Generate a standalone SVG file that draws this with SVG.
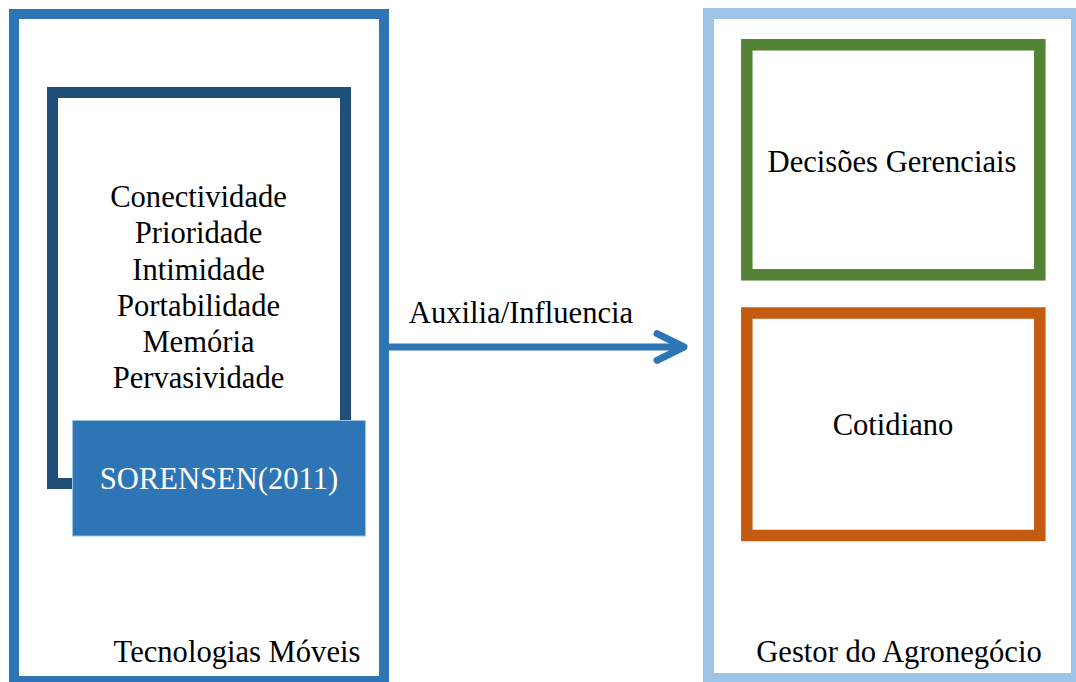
<svg xmlns="http://www.w3.org/2000/svg" width="1076" height="682" viewBox="0 0 1076 682">
  <defs>
    <marker id="chevron" viewBox="0 0 10 10" refX="8.6" refY="5" markerWidth="5" markerHeight="5" markerUnits="strokeWidth" orient="auto" overflow="visible">
      <path d="M0.9,1.2 L8.6,5 L0.9,8.8" fill="none" stroke="#2E75B6" stroke-width="2" stroke-linecap="round" stroke-linejoin="round"/>
    </marker>
  </defs>
  <style>
    .frame { fill: #FFFFFF; }
    .lbl { font-family: "Liberation Serif", "Times New Roman", serif; font-size: 30.6px; fill: #000000; text-anchor: middle; }
    .lbl-w { fill: #FFFFFF; }
    .link { stroke: #2E75B6; stroke-width: 7; fill: none; }
  </style>
  <rect width="1076" height="682" fill="#FFFFFF"/>

  <!-- Mobile technologies panel -->
  <g id="tecnologias-moveis">
    <rect class="frame" x="14" y="14" width="370" height="667" stroke="#2E75B6" stroke-width="10"/>
    <text class="lbl" x="237" y="662">Tecnologias Móveis</text>
  </g>

  <!-- Attribute list -->
  <g id="atributos">
    <rect class="frame" x="52.5" y="92.5" width="293" height="391" stroke="#1F4E79" stroke-width="11"/>
    <text class="lbl" x="198.5" y="206.5">Conectividade</text>
    <text class="lbl" x="198.5" y="243.2">Prioridade</text>
    <text class="lbl" x="198.5" y="279.5">Intimidade</text>
    <text class="lbl" x="198.5" y="315.8">Portabilidade</text>
    <text class="lbl" x="198.5" y="352">Memória</text>
    <text class="lbl" x="198.5" y="388.3">Pervasividade</text>
  </g>

  <!-- Source tag -->
  <g id="sorensen">
    <rect x="72.5" y="420.5" width="293" height="115.5" fill="#2E75B6" stroke="#9DC3E6" stroke-width="1"/>
    <text class="lbl lbl-w" x="219" y="489">SORENSEN(2011)</text>
  </g>

  <!-- Agribusiness manager panel -->
  <g id="gestor-agronegocio">
    <rect class="frame" x="708.5" y="13.5" width="368" height="665" stroke="#9DC3E6" stroke-width="11"/>
    <text class="lbl" x="899" y="662">Gestor do Agronegócio</text>
  </g>

  <g id="decisoes-gerenciais">
    <rect class="frame" x="746.8" y="44.8" width="293" height="230" stroke="#548235" stroke-width="11.5"/>
    <text class="lbl" x="892" y="171.5">Decisões Gerenciais</text>
  </g>

  <g id="cotidiano">
    <rect class="frame" x="746.8" y="313" width="293" height="222.5" stroke="#C55A11" stroke-width="11.5"/>
    <text class="lbl" x="893" y="435">Cotidiano</text>
  </g>

  <!-- Connectors -->
  <g id="connectors">
    <line class="link" x1="389" y1="347" x2="684" y2="347" marker-end="url(#chevron)"/>
    <text class="lbl" x="521" y="323">Auxilia/Influencia</text>
  </g>
</svg>
